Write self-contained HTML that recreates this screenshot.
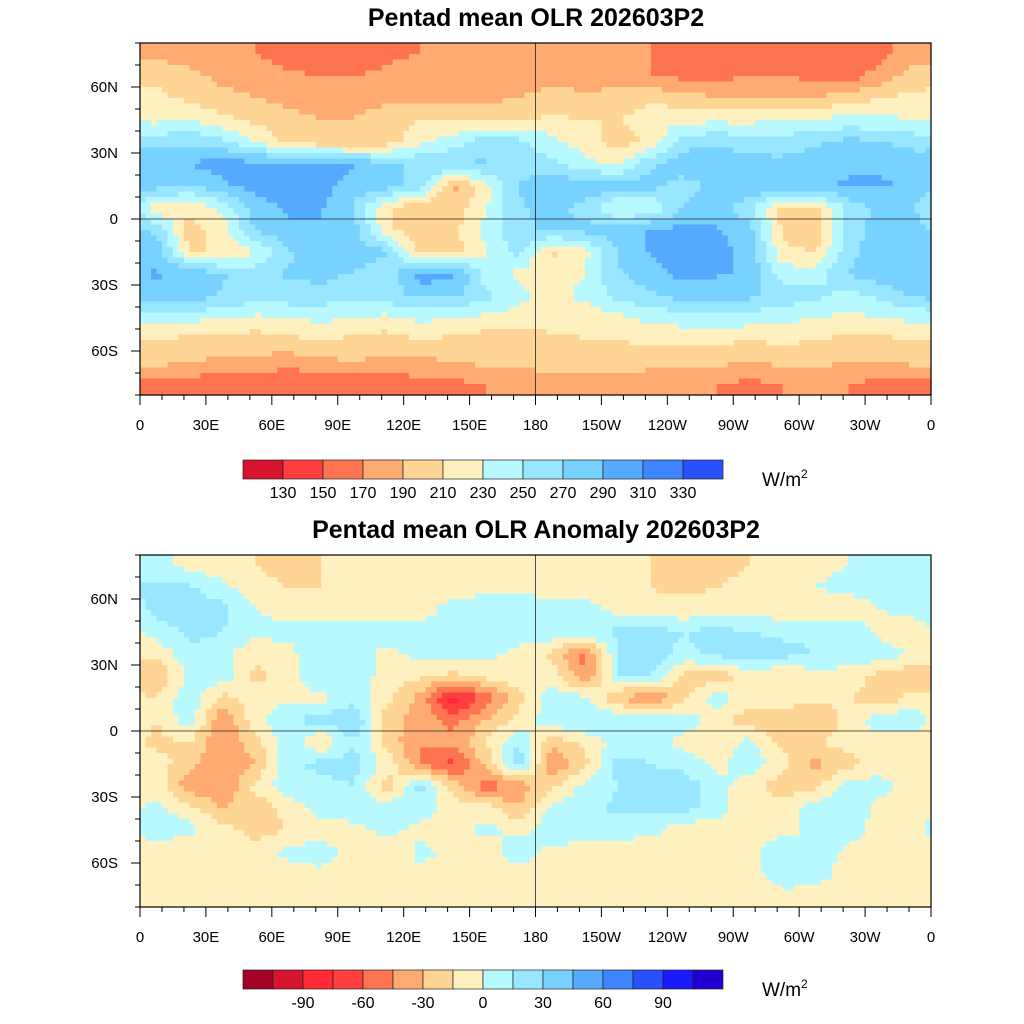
<!DOCTYPE html>
<html><head><meta charset="utf-8">
<style>
html,body{margin:0;padding:0;background:#fff;}
svg{display:block;font-family:"Liberation Sans",sans-serif;}
</style></head>
<body>
<svg id="fig" width="1024" height="1024" viewBox="0 0 1024 1024">
<text x="536" y="26" text-anchor="middle" font-size="25" font-weight="bold">Pentad mean OLR 202603P2</text>
<text x="536" y="538" text-anchor="middle" font-size="25" font-weight="bold">Pentad mean OLR Anomaly 202603P2</text>
<g id="map1"></g>
<g id="map2"></g>
<g id="cb1"></g>
<g id="cb2"></g>
</svg>
<script>
// grid: 24 lon columns (15° each from 0E), 16 lat rows (10° each from 80N to 80S)
const lonCenters = [7.5,22.5,37.5,52.5,67.5,82.5,97.5,112.5,127.5,142.5,157.5,172.5,187.5,202.5,217.5,232.5,247.5,262.5,277.5,292.5,307.5,322.5,337.5,352.5];
const latCenters = [75,65,55,45,35,25,15,5,-5,-15,-25,-35,-45,-55,-65,-75];
const olr = [
[185,180,175,170,160,150,155,165,170,175,180,180,180,180,175,170,165,160,155,150,150,150,165,180],
[205,195,185,180,175,170,170,175,180,180,185,185,185,180,175,170,165,165,170,170,165,160,180,200],
[215,205,195,190,185,185,185,185,180,185,185,190,195,195,200,205,200,190,185,185,190,200,210,215],
[225,230,215,205,195,190,190,200,210,210,205,205,215,210,210,220,225,225,225,230,235,235,235,230],
[262,267,257,230,205,195,190,200,225,240,262,257,235,220,200,215,262,267,262,257,267,277,272,262],
[287,292,297,297,302,302,292,272,267,272,272,262,257,235,225,267,282,282,277,277,282,287,287,282],
[277,267,287,297,302,297,282,277,262,185,220,272,282,287,282,277,262,277,287,287,287,292,292,287],
[215,215,235,282,292,292,267,215,190,195,230,267,277,262,225,230,272,277,257,200,205,257,277,272],
[267,200,220,272,287,287,277,215,195,205,235,267,272,277,282,292,297,292,277,205,195,257,282,277],
[282,210,210,230,267,282,287,272,200,200,230,257,205,225,272,292,302,297,282,215,210,262,287,287],
[292,287,272,262,272,277,267,257,302,297,240,225,215,230,267,282,297,292,287,240,240,272,282,287],
[282,287,267,262,262,260,257,260,274,272,257,235,225,235,257,267,277,277,274,262,257,240,257,272],
[235,235,230,225,230,235,230,225,235,230,225,220,220,215,225,235,240,245,240,235,230,225,230,235],
[210,205,205,200,205,210,205,200,210,205,200,200,205,210,210,215,215,215,210,215,210,205,205,210],
[195,190,185,185,180,185,190,185,185,190,195,195,200,200,200,195,195,195,190,195,195,190,190,195],
[165,160,155,150,150,150,150,155,165,165,170,175,180,180,180,180,175,170,165,170,175,170,165,160]
];
const anom = [
[7,-5,-10,-15,-20,-15,-10,-8,-5,-5,-7,-7,-7,-7,-10,-15,-20,-20,-15,-5,-3,0,5,5],
[20,18,5,-10,-15,-15,-15,-10,-7,-5,-5,-5,-7,-10,-12,-15,-18,-15,-10,-5,0,5,8,12],
[20,25,20,0,-7,-7,-10,-7,-5,5,10,10,10,10,-5,-10,-10,-7,-5,-10,-15,-10,0,5],
[5,20,15,5,5,10,10,8,5,5,10,10,12,15,18,22,15,22,15,12,12,10,-5,-10],
[-10,10,5,-12,-5,15,10,-5,5,10,5,-5,-20,-50,15,25,10,20,25,20,15,10,10,-5],
[-30,5,10,-20,-7,15,10,-7,-12,-20,-10,-5,-5,-45,15,15,-20,-25,-10,-15,-7,-7,-20,-25],
[-15,12,-20,-7,-5,-5,10,-10,-35,-85,-55,-20,8,5,-30,-45,-20,8,-7,-7,-10,-15,-25,-10],
[-15,10,-45,-5,15,20,30,-25,-35,-50,-30,-10,10,15,15,10,10,-7,-25,-25,-30,-10,10,10],
[-20,-15,-45,-20,10,-15,15,-20,-45,-40,-15,15,-25,-10,5,10,-7,-10,5,-20,-15,-10,-7,-7],
[-7,-25,-45,-30,10,20,20,-5,-45,-65,-25,25,-45,-20,20,15,10,-5,10,-10,-35,-20,-7,-7],
[-7,-40,-45,-10,10,10,15,-25,20,-20,-55,-40,-20,5,15,20,25,5,-7,-25,-20,10,5,-5],
[5,-10,-30,-25,-10,10,10,8,10,-10,-7,-30,5,10,18,20,20,10,-15,-7,10,10,-5,-7],
[10,5,-10,-20,-15,-10,-5,5,-5,-10,5,-5,10,15,10,5,-10,-10,-10,-7,5,10,-10,-5],
[-10,-15,-5,-10,5,10,-10,-15,5,-5,-10,10,-5,-10,-15,-10,-5,-10,-7,15,10,-5,-10,-7],
[-10,-7,-7,-10,-7,-5,-10,-7,-5,-7,-7,-7,-10,-7,-10,-7,-5,-5,-7,10,5,-5,-7,-7],
[-7,-5,-5,-5,-7,-7,-5,-5,-5,-5,-5,-5,-7,-7,-7,-5,-10,-15,-10,-5,-5,-5,-7,-7]
];
const olrLevels = [130,150,170,190,210,230,250,270,290,310,330];
const olrLabels = ["130","150","170","190","210","230","250","270","290","310","330"];
const anomLevels = [-105,-90,-75,-60,-45,-30,-15,0,15,30,45,60,75,90,105];
const anomLabels = ["-90","-60","-30","0","30","60","90"];
const anomLabelLevels = [-90,-60,-30,0,30,60,90];
const latTicks = [60,30,0,-30,-60];
const latTickLabels = ["60N","30N","0","30S","60S"];
const lonTicks = [0,30,60,90,120,150,180,210,240,270,300,330,360];
const lonTickLabels = ["0","30E","60E","90E","120E","150E","180","150W","120W","90W","60W","30W","0"];

const olrColors = ["#d6142e","#ff3f3f","#ff7450","#ffaa70","#ffd595","#fff0c0","#b8f8ff","#98e6ff","#78d2ff","#55aaff","#3c85ff","#2850ff"];
const anomColors = ["#a50026","#d6142e","#ff2a35","#ff3f3f","#ff7450","#ffaa70","#ffd595","#fff0c0","#b8f8ff","#98e6ff","#78d2ff","#55aaff","#3c85ff","#2850ff","#1a1aff","#2000d0"];

const NS="http://www.w3.org/2000/svg";
const X0=140, X1=931, W=X1-X0;
function mk(tag,attrs,parent){const e=document.createElementNS(NS,tag);for(const k in attrs)e.setAttribute(k,attrs[k]);parent.appendChild(e);return e;}
function classOf(v,levels){let i=0;while(i<levels.length&&v>=levels[i])i++;return i;}
function sample(grid,lon,lat){
  let fx=(lon-7.5)/15; let ix=Math.floor(fx); let tx=fx-ix;
  let fy=(75-lat)/10; fy=Math.max(0,Math.min(15,fy)); let iy=Math.floor(fy); if(iy>=15){iy=14;} let ty=fy-iy;
  const c0=((ix%24)+24)%24, c1=(c0+1)%24;
  const a=grid[iy][c0]*(1-tx)+grid[iy][c1]*tx;
  const b=grid[iy+1][c0]*(1-tx)+grid[iy+1][c1]*tx;
  return a*(1-ty)+b*ty;
}
function drawMap(g,grid,levels,colors,Y0){
  const H=352;
  const xs=lon=>X0+lon/360*W, ys=lat=>Y0+(80-lat)/160*H;
  const step=2.5;
  const cells=mk('g',{},g);
  
  
  for(let lat=80;lat>-80;lat-=step){
    let runStart=0, runCls=-1;
    const flush=(endLon)=>{
      if(runCls<0)return;
      const r=mk('rect',{x:xs(runStart).toFixed(2),y:ys(lat).toFixed(2),width:(xs(endLon)-xs(runStart)+0.6).toFixed(2),height:(ys(lat-step)-ys(lat)+0.6).toFixed(2),fill:colors[runCls]},cells);
      
      
    };
    for(let lon=0;lon<360;lon+=step){
      const v=sample(grid,lon+step/2,lat-step/2);
      const c=classOf(v,levels);
      if(c!==runCls){flush(lon);runStart=lon;runCls=c;}
    }
    flush(360);
  }
  const eq=mk('line',{x1:X0,x2:X1,y1:ys(0),y2:ys(0),stroke:'#222','stroke-width':0.8},g);
   
  const dl=mk('line',{x1:xs(180),x2:xs(180),y1:Y0,y2:Y0+H,stroke:'#222','stroke-width':0.8},g);
   
  const fr=mk('rect',{x:X0,y:Y0,width:W,height:H,fill:'none',stroke:'#000','stroke-width':1.2},g);
   
  for(let lat=-80;lat<=80;lat+=10){
    const major=latTicks.includes(lat);
    mk('line',{x1:X0,x2:X0-(major?9:5),y1:ys(lat),y2:ys(lat),stroke:'#000','stroke-width':1},g);
  }
  for(let lon=0;lon<=360;lon+=10){
    const major=lonTicks.includes(lon);
    mk('line',{x1:xs(lon),x2:xs(lon),y1:Y0+H,y2:Y0+H+(major?10:5),stroke:'#000','stroke-width':1},g);
  }
  latTicks.forEach((lat,i)=>{
    const t=mk('text',{x:118,y:ys(lat)+5,'text-anchor':'end','font-size':15},g);
    t.textContent=latTickLabels[i];
     
  });
  lonTicks.forEach((lon,i)=>{
    const t=mk('text',{x:xs(lon),y:Y0+H+35,'text-anchor':'middle','font-size':15},g);
    t.textContent=lonTickLabels[i];
     
  });
}
function drawBar(g,colors,levels,labels,labelLevels,Y){
  const n=colors.length, bw=480/n, x0=243;
  colors.forEach((c,i)=>{
    const r=mk('rect',{x:x0+i*bw,y:Y,width:bw,height:19,fill:c,stroke:'#222','stroke-width':0.7},g);
     
  });
  labels.forEach((s,i)=>{
    const k=levels.indexOf(labelLevels[i]);
    const t=mk('text',{x:x0+(k+1)*bw,y:Y+38,'text-anchor':'middle','font-size':16},g);
    t.textContent=s;
     
  });
  const u=mk('text',{x:762,y:Y+26,'font-size':19},g);
  u.innerHTML='W/m<tspan dy="-8" font-size="12">2</tspan>';
   
}
drawMap(document.getElementById('map1'),olr,olrLevels,olrColors,43);
drawMap(document.getElementById('map2'),anom,anomLevels,anomColors,555);
drawBar(document.getElementById('cb1'),olrColors,olrLevels,olrLabels,olrLevels,460);
drawBar(document.getElementById('cb2'),anomColors,anomLevels,anomLabels,anomLabelLevels,970);
</script>
</body></html>
